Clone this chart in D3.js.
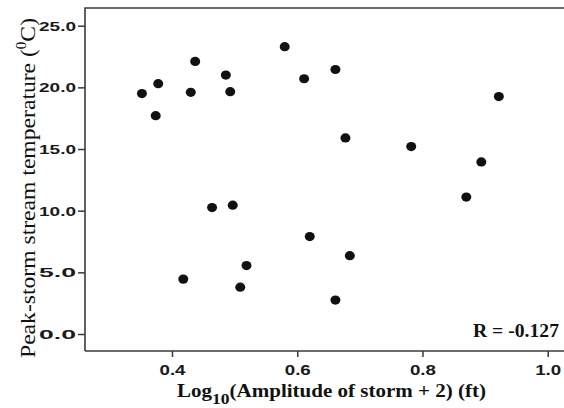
<!DOCTYPE html>
<html><head><meta charset="utf-8">
<script src="https://cdn.jsdelivr.net/npm/d3@7"></script>
<style>html,body{margin:0;padding:0;background:#fff;}svg{display:block;}</style>
</head><body>
<svg id="chart" width="564" height="408"></svg>
<script>
const amplitudeLog = [0.352,0.378,0.374,0.437,0.430,0.486,0.493,0.580,0.611,0.661,0.677,0.782,0.922,0.894,0.870,0.464,0.497,0.620,0.684,0.418,0.519,0.509,0.661];
const peakTemp    = [19.5,20.3,17.7,22.1,19.6,21.0,19.65,23.3,20.7,21.45,15.9,15.2,19.25,13.95,11.1,10.25,10.45,7.9,6.35,4.45,5.55,3.8,2.75];
const xTicks = [0.4,0.6,0.8,1.0];
const yTicks = [0,5,10,15,20,25];
const rText = "R = -0.127";

const svg = d3.select("#chart");
const mLeft = 85, mRight = 564, mTop = 8, mBottom = 351;
const x = d3.scaleLinear().domain([0.4,1.0]).range([172,547.7]);
const y = d3.scaleLinear().domain([0,25]).range([334,25.7]);

// frame
svg.append("path").attr("d",`M${mLeft},${mBottom}V${mTop}H${mRight+5}`)
  .attr("fill","none").attr("stroke","#3a3a3a").attr("stroke-width",1.6);
svg.append("path").attr("d",`M${mLeft},${mBottom}H${mRight+5}`)
  .attr("fill","none").attr("stroke","#3a3a3a").attr("stroke-width",1.6);

// y axis
const yAxis = d3.axisLeft(y).tickValues(yTicks).tickFormat(d3.format(".1f")).tickSize(7).tickPadding(2);
const gy = svg.append("g").attr("transform",`translate(${mLeft},0)`).call(yAxis);
gy.select(".domain").remove();
gy.selectAll(".tick line").attr("stroke","#3a3a3a").attr("stroke-width",1.5);
gy.selectAll(".tick text").attr("font-family","Liberation Sans, Arial, sans-serif")
  .attr("font-weight","bold").attr("font-size",13.5).attr("fill","#1a1a1a")
  .attr("x",-9).attr("textLength",37).attr("lengthAdjust","spacingAndGlyphs");

// x axis
const xAxis = d3.axisBottom(x).tickValues(xTicks).tickFormat(d3.format(".1f")).tickSize(6).tickPadding(2);
const gx = svg.append("g").attr("transform",`translate(0,${mBottom})`).call(xAxis);
gx.select(".domain").remove();
gx.selectAll(".tick line").attr("stroke","#3a3a3a").attr("stroke-width",1.5);
gx.selectAll(".tick text").attr("font-family","Liberation Sans, Arial, sans-serif")
  .attr("font-weight","bold").attr("font-size",14).attr("fill","#1a1a1a")
  .attr("dy",null).attr("y",24).attr("textLength",26).attr("lengthAdjust","spacingAndGlyphs");

// points
svg.append("g").selectAll("ellipse").data(amplitudeLog.map((v,i)=>[v,peakTemp[i]])).join("ellipse")
  .attr("cx",d=>x(d[0])).attr("cy",d=>y(d[1])).attr("rx",5).attr("ry",4.6).attr("fill","#111");

// R label
svg.append("text").attr("x",473).attr("y",337).attr("font-family","Liberation Serif, Times New Roman, serif")
  .attr("font-weight","bold").attr("font-size",18).attr("fill","#111")
  .attr("textLength",86).attr("lengthAdjust","spacingAndGlyphs").text(rText);

// x title
const xt = svg.append("text").attr("x",177).attr("y",397).attr("font-family","Liberation Serif, Times New Roman, serif")
  .attr("font-weight","bold").attr("font-size",18).attr("fill","#111")
  .attr("textLength",309).attr("lengthAdjust","spacingAndGlyphs");
xt.append("tspan").text("Log");
xt.append("tspan").attr("font-size",15).attr("dy",7).text("10");
xt.append("tspan").attr("dy",-7).text("(Amplitude of storm + 2) (ft)");

// y title
const yt = svg.append("text").attr("transform","translate(35,358) rotate(-90)")
  .attr("font-family","Liberation Serif, Times New Roman, serif")
  .attr("font-size",22).attr("fill","#111")
  .attr("textLength",340).attr("lengthAdjust","spacingAndGlyphs");
yt.append("tspan").text("Peak-storm stream temperature (");
yt.append("tspan").attr("font-size",14).attr("dy",-9).text("0");
yt.append("tspan").attr("dy",9).text("C)");
</script>
</body></html>
